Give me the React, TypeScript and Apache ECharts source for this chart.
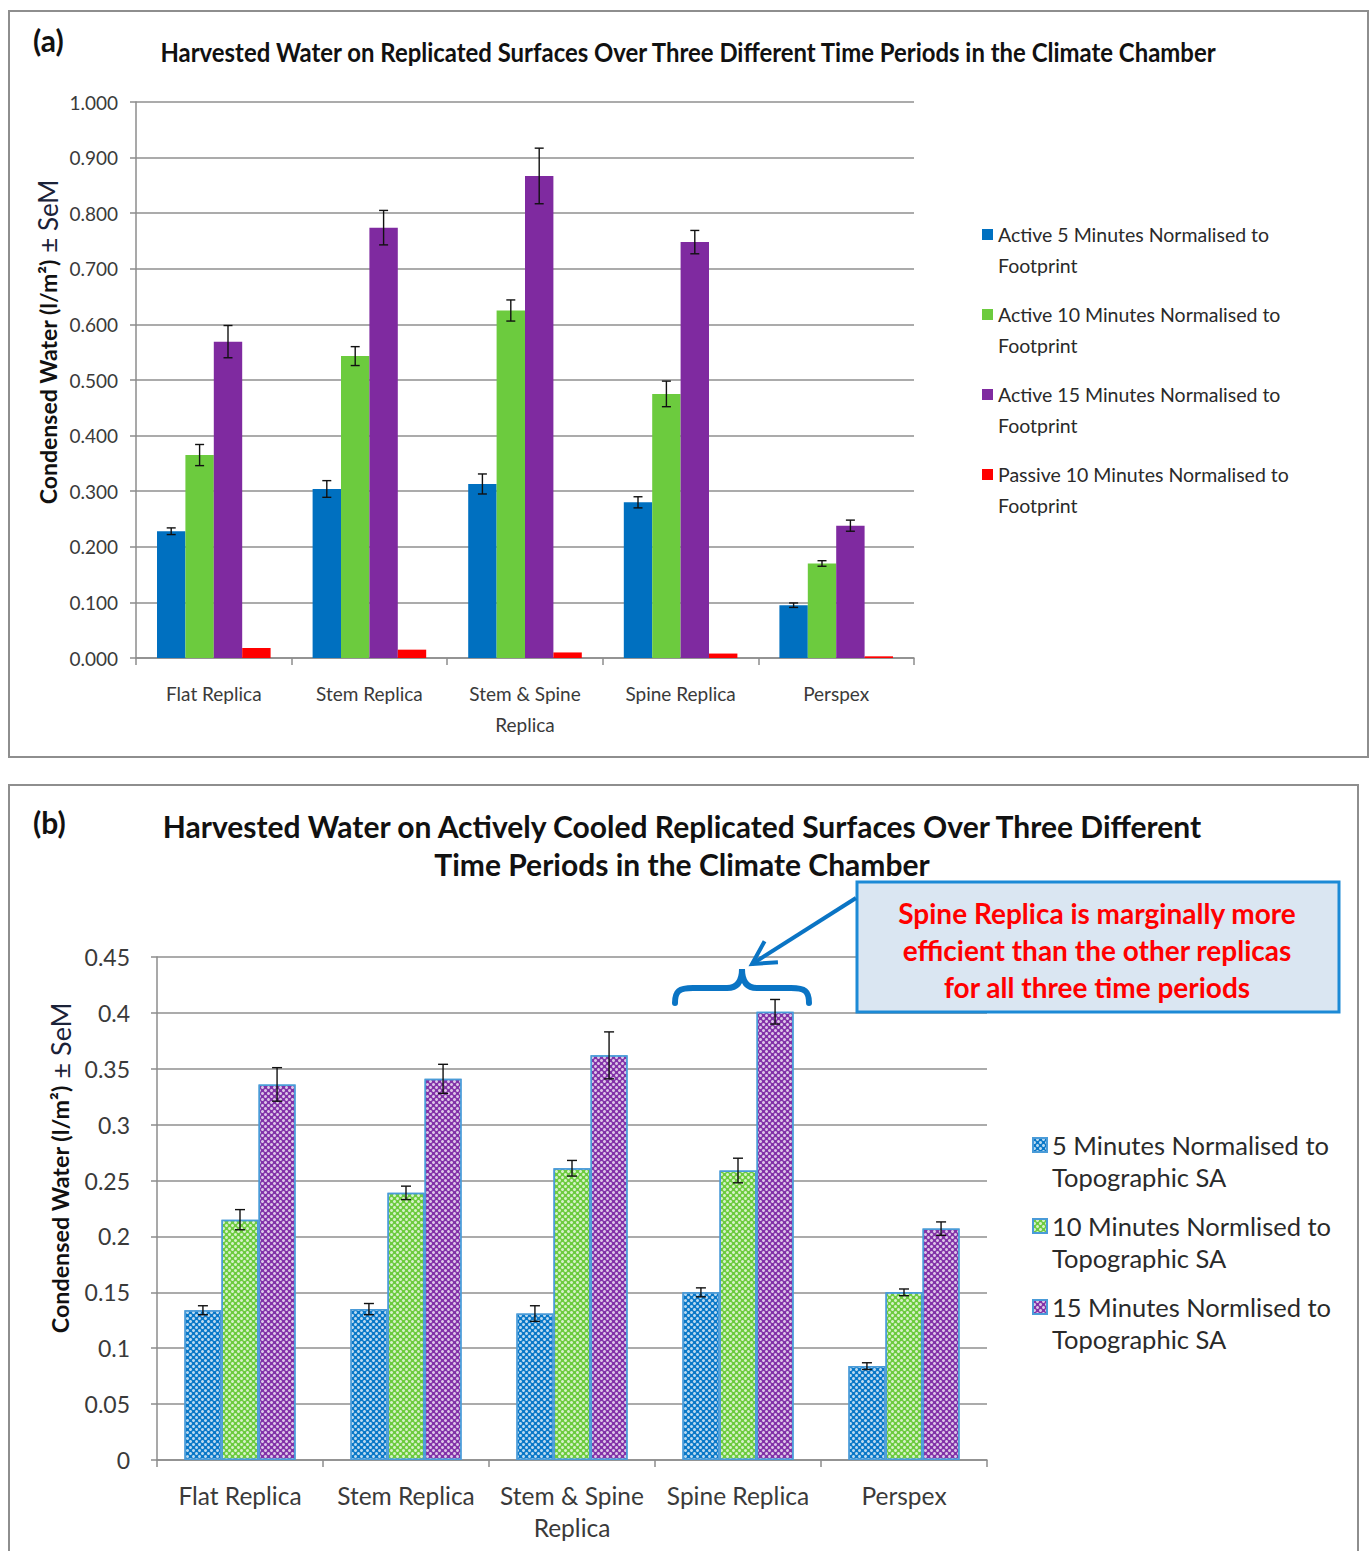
import React, { useEffect, useRef } from 'react';
import * as echarts from 'echarts';

// ---------- data ----------
const categories = ['Flat Replica', 'Stem Replica', 'Stem & Spine Replica', 'Spine Replica', 'Perspex'];

const namesA = [
  'Active 5 Minutes Normalised to Footprint',
  'Active 10 Minutes Normalised to Footprint',
  'Active 15 Minutes Normalised to Footprint',
  'Passive 10 Minutes Normalised to Footprint',
];
const active5 = [0.228, 0.304, 0.313, 0.28, 0.095];
const active5Se = [0.006, 0.015, 0.018, 0.01, 0.004];
const active10 = [0.365, 0.543, 0.625, 0.475, 0.17];
const active10Se = [0.019, 0.017, 0.019, 0.023, 0.005];
const active15 = [0.569, 0.774, 0.867, 0.748, 0.238];
const active15Se = [0.029, 0.031, 0.05, 0.021, 0.01];
const passive10 = [0.018, 0.015, 0.01, 0.008, 0.003];

const namesB = [
  '5 Minutes Normalised to Topographic SA',
  '10 Minutes Normlised to Topographic SA',
  '15 Minutes Normlised to Topographic SA',
];
const topo5 = [0.134, 0.135, 0.131, 0.15, 0.084];
const topo5Se = [0.004, 0.005, 0.007, 0.004, 0.003];
const topo10 = [0.215, 0.239, 0.261, 0.259, 0.15];
const topo10Se = [0.009, 0.006, 0.007, 0.011, 0.003];
const topo15 = [0.336, 0.341, 0.362, 0.401, 0.207];
const topo15Se = [0.015, 0.013, 0.021, 0.011, 0.006];

const annotationLines = [
  'Spine Replica is marginally more',
  'efficient than the other replicas',
  'for all three time periods',
];

// ---------- styling ----------
const colorsA = ['#0070C0', '#6CCB3E', '#7F2AA0', '#FF0000'];
const colorsB = ['#0A78C8', '#6CCB3E', '#8232A8'];
const LATO = 'Lato, sans-serif';
const GAP_A = 0.27;
const GAP_B = 0.33;

const wrapCat = (v: string) => v.replace('Stem & Spine ', 'Stem & Spine\n');

function errorSeries(
  values: number[][],
  ses: number[][],
  nBars: number,
  gap: number,
  cap: number,
  axisIndex: number,
) {
  const data: number[][] = [];
  values.forEach((arr, si) => arr.forEach((v, ci) => data.push([ci, si, v, ses[si][ci]])));
  return {
    type: 'custom',
    xAxisIndex: axisIndex,
    yAxisIndex: axisIndex,
    z: 5,
    silent: true,
    encode: { x: 0, y: 2 },
    data,
    renderItem: (params: any, api: any) => {
      const ci = api.value(0);
      const si = api.value(1);
      const v = api.value(2);
      const se = api.value(3);
      const band = api.size([1, 0])[0];
      const groupW = band * (1 - gap);
      const bw = groupW / nBars;
      const c = api.coord([ci, v]);
      const x = c[0] - groupW / 2 + (si + 0.5) * bw;
      const yt = api.coord([ci, v + se])[1];
      const yb = api.coord([ci, v - se])[1];
      const st = { stroke: '#111', lineWidth: 1.4 };
      return {
        type: 'group',
        children: [
          { type: 'line', shape: { x1: x, y1: yt, x2: x, y2: yb }, style: st },
          { type: 'line', shape: { x1: x - cap, y1: yt, x2: x + cap, y2: yt }, style: st },
          { type: 'line', shape: { x1: x - cap, y1: yb, x2: x + cap, y2: yb }, style: st },
        ],
      };
    },
  };
}

const decalFor = () => ({
  symbol: 'circle',
  symbolSize: 1,
  color: 'rgba(255,255,255,0.72)',
  dashArrayX: [[3, 3], [0, 3, 3, 0]],
  dashArrayY: [3, 0],
});

const yName = (x: number, y: number, bold: number, normal: number) => ({
  type: 'text',
  x,
  y,
  rotation: Math.PI / 2,
  style: {
    text: '{b|Condensed Water (l/m²)}{n| ± SeM}',
    align: 'center',
    verticalAlign: 'middle',
    rich: {
      b: { fontFamily: LATO, fontWeight: 'bold', fontSize: bold, fill: '#111' },
      n: { fontFamily: LATO, fontSize: normal, fill: '#1B2238' },
    },
  },
});

export default function App() {
  const ref = useRef<HTMLDivElement>(null);

  useEffect(() => {
    if (!ref.current) return;
    echarts.graphic.registerShape(
      'brace',
      echarts.graphic.extendPath(
        'M0,34 C0,22 4,19 18,19 L52,19 C62,19 67,13 67,0 C67,13 72,19 82,19 L116,19 C130,19 134,22 134,34',
        {},
      ),
    );
    const chart = echarts.init(ref.current, null, { renderer: 'svg' });

    // arrow geometry
    const ax1 = 856, ay1 = 898, ax2 = 752, ay2 = 964;
    const ang = Math.atan2(ay1 - ay2, ax1 - ax2);
    const headLen = 26;
    const wing = (d: number) => [ax2 + headLen * Math.cos(ang + d), ay2 + headLen * Math.sin(ang + d)];
    const w1 = wing(0.5);
    const w2 = wing(-0.5);

    const gridLine = { lineStyle: { color: '#ABABAB', width: 2 } };
    const axisLineStyle = { lineStyle: { color: '#8C8C8C', width: 1.5 } };
    const tickStyle = { show: true, length: 7, lineStyle: { color: '#8C8C8C', width: 1.5 } };

    const option: any = {
      animation: false,
      backgroundColor: '#fff',
      grid: [
        { left: 136, right: 458, top: 102, bottom: 893 },
        { left: 157, right: 385, top: 957, bottom: 91 },
      ],
      xAxis: [
        {
          type: 'category',
          gridIndex: 0,
          data: categories,
          axisLine: axisLineStyle,
          axisTick: tickStyle,
          axisLabel: {
            interval: 0,
            formatter: wrapCat,
            fontFamily: LATO,
            fontSize: 19,
            color: '#3A3A3A',
            lineHeight: 31,
            margin: 20,
          },
        },
        {
          type: 'category',
          gridIndex: 1,
          data: categories,
          axisLine: axisLineStyle,
          axisTick: tickStyle,
          axisLabel: {
            interval: 0,
            formatter: wrapCat,
            fontFamily: LATO,
            fontSize: 24.5,
            color: '#3A3A3A',
            lineHeight: 32,
            margin: 19,
          },
        },
      ],
      yAxis: [
        {
          type: 'value',
          gridIndex: 0,
          min: 0,
          max: 1,
          interval: 0.1,
          axisLine: { show: true, ...axisLineStyle },
          axisTick: { ...tickStyle, length: 6 },
          splitLine: gridLine,
          axisLabel: {
            formatter: (v: number) => v.toFixed(3),
            fontFamily: LATO,
            fontSize: 19,
            color: '#3A3A3A',
            margin: 18,
          },
        },
        {
          type: 'value',
          gridIndex: 1,
          min: 0,
          max: 0.45,
          interval: 0.05,
          axisLine: { show: true, ...axisLineStyle },
          axisTick: { ...tickStyle, length: 6 },
          splitLine: gridLine,
          axisLabel: {
            formatter: (v: number) => String(Math.round(v * 100) / 100),
            fontFamily: LATO,
            fontSize: 23,
            color: '#3A3A3A',
            margin: 27,
          },
        },
      ],
      legend: [
        {
          data: namesA,
          orient: 'vertical',
          left: 982,
          top: 188,
          padding: 0,
          itemWidth: 11,
          itemHeight: 11,
          itemGap: -13,
          icon: 'rect',
          selectedMode: false,
          formatter: (n: string) => ' \n' + n.replace(' Footprint', '\nFootprint'),
          textStyle: {
            fontFamily: LATO,
            fontSize: 19.5,
            lineHeight: 31,
            color: '#2A2A2A',
          },
        },
        {
          data: namesB,
          orient: 'vertical',
          left: 1032,
          top: 1097,
          padding: 0,
          itemWidth: 14,
          itemHeight: 14,
          itemGap: -15,
          icon: 'rect',
          selectedMode: false,
          formatter: (n: string) => ' \n' + n.replace(' Topographic SA', '\nTopographic SA'),
          textStyle: {
            fontFamily: LATO,
            fontSize: 25.5,
            lineHeight: 32,
            color: '#2A2A2A',
          },
        },
      ],
      series: [
        ...[active5, active10, active15, passive10].map((d, i) => ({
          type: 'bar',
          name: namesA[i],
          xAxisIndex: 0,
          yAxisIndex: 0,
          data: d,
          barGap: '0%',
          barCategoryGap: GAP_A * 100 + '%',
          itemStyle: { color: colorsA[i] },
        })),
        errorSeries([active5, active10, active15], [active5Se, active10Se, active15Se], 4, GAP_A, 4.5, 0),
        ...[topo5, topo10, topo15].map((d, i) => ({
          type: 'bar',
          name: namesB[i],
          xAxisIndex: 1,
          yAxisIndex: 1,
          data: d,
          barGap: '0%',
          barCategoryGap: GAP_B * 100 + '%',
          itemStyle: {
            color: colorsB[i],
            borderColor: '#4A9BD8',
            borderWidth: 1.5,
            decal: decalFor(),
          },
        })),
        errorSeries([topo5, topo10, topo15], [topo5Se, topo10Se, topo15Se], 3, GAP_B, 5, 1),
      ],
      graphic: [
        // panel frames
        { type: 'rect', shape: { x: 9, y: 11, width: 1359, height: 746 }, style: { fill: 'none', stroke: '#8E8E8E', lineWidth: 2 }, z: 0 },
        { type: 'rect', shape: { x: 9, y: 785, width: 1349, height: 780 }, style: { fill: 'none', stroke: '#8E8E8E', lineWidth: 2 }, z: 0 },
        // panel labels
        { type: 'text', x: 33, y: 40, style: { text: '(a)', font: 'bold 30px Lato, sans-serif', fill: '#111', verticalAlign: 'middle' } },
        { type: 'text', x: 33, y: 822, style: { text: '(b)', font: 'bold 30px Lato, sans-serif', fill: '#111', verticalAlign: 'middle' } },
        // y-axis names
        yName(48, 342, 23, 26),
        yName(60, 1168, 23.3, 27),
        // titles
        {
          type: 'text', x: 688, y: 52, scaleX: 0.92,
          style: {
            text: 'Harvested Water on Replicated Surfaces Over Three Different Time Periods in the Climate Chamber',
            font: 'bold 26px Lato, sans-serif', fill: '#111', align: 'center', verticalAlign: 'middle',
          },
        },
        {
          type: 'text', x: 682, y: 845,
          style: {
            text: 'Harvested Water on Actively Cooled Replicated Surfaces Over Three Different\nTime Periods in the Climate Chamber',
            font: 'bold 30px Lato, sans-serif', lineHeight: 38, fill: '#111', align: 'center', verticalAlign: 'middle',
          },
        },
        // annotation box
        { type: 'rect', shape: { x: 857, y: 882, width: 482, height: 130 }, style: { fill: '#DAE6F2', stroke: '#1C8AD6', lineWidth: 3 }, z: 10 },
        ...annotationLines.map((t, i) => ({
          type: 'text', x: 1097, y: 913 + i * 37, z: 11,
          style: { text: t, font: 'bold 28px Lato, sans-serif', fill: '#FF0000', align: 'center', verticalAlign: 'middle' },
        })),
        // arrow
        { type: 'line', z: 10, shape: { x1: ax1, y1: ay1, x2: ax2, y2: ay2 }, style: { stroke: '#0A74C4', lineWidth: 4 } },
        { type: 'polyline', z: 10, shape: { points: [w1, [ax2, ay2], w2] }, style: { stroke: '#0A74C4', lineWidth: 4, fill: 'none', lineJoin: 'miter' } },
        // brace
        { type: 'brace', x: 675, y: 969, z: 10, style: { fill: 'none', stroke: '#0A74C4', lineWidth: 6, lineCap: 'round' } },
      ],
    };

    chart.setOption(option);
    return () => chart.dispose();
  }, []);

  return (
    <div
      ref={ref}
      style={{ position: 'absolute', left: 0, top: 0, width: 1372, height: 1551, background: '#fff' }}
    />
  );
}
